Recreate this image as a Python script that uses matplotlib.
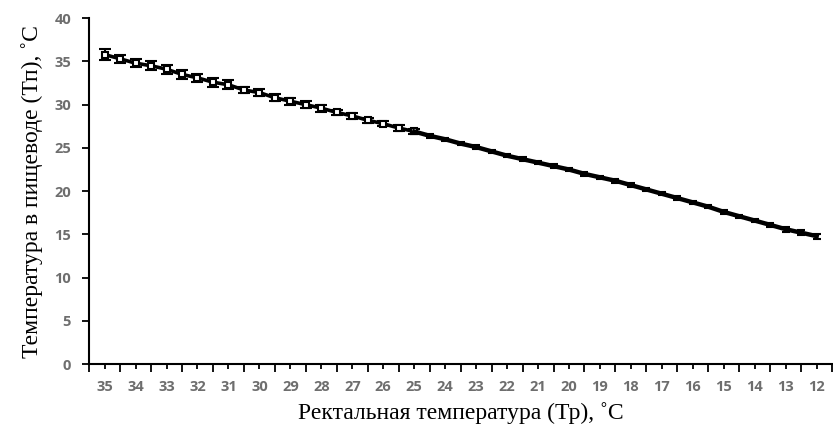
import numpy as np
import matplotlib.pyplot as plt

# rectal temperature categories (category axis, descending)
categories = [35, 34, 33, 32, 31, 30, 29, 28, 27, 26, 25, 24,
              23, 22, 21, 20, 19, 18, 17, 16, 15, 14, 13, 12]

# measurements every half degree: rectal temp and esophageal temp
tr_values = [35.0, 34.5, 34.0, 33.5, 33.0, 32.5, 32.0, 31.5, 31.0, 30.5,
             30.0, 29.5, 29.0, 28.5, 28.0, 27.5, 27.0, 26.5, 26.0, 25.5,
             25.0, 24.5, 24.0, 23.5, 23.0, 22.5, 22.0, 21.5, 21.0, 20.5,
             20.0, 19.5, 19.0, 18.5, 18.0, 17.5, 17.0, 16.5, 16.0, 15.5,
             15.0, 14.5, 14.0, 13.5, 13.0, 12.5, 12.0]
tp_values = [35.8, 35.3, 34.8, 34.5, 34.1, 33.5, 33.1, 32.6, 32.3, 31.7,
             31.4, 30.8, 30.4, 30.0, 29.6, 29.1, 28.7, 28.2, 27.8, 27.3,
             26.9, 26.4, 26.0, 25.5, 25.1, 24.6, 24.1, 23.7, 23.3, 22.9,
             22.5, 22.0, 21.6, 21.2, 20.7, 20.2, 19.7, 19.2, 18.7, 18.2,
             17.6, 17.1, 16.6, 16.1, 15.6, 15.2, 14.8]
tp_errors = [0.6, 0.5, 0.5, 0.5, 0.5, 0.5, 0.5, 0.5, 0.5, 0.4,
             0.4, 0.4, 0.4, 0.4, 0.4, 0.3, 0.3, 0.3, 0.3, 0.3,
             0.3, 0.2, 0.2, 0.2, 0.2, 0.2, 0.2, 0.2, 0.2, 0.2,
             0.2, 0.2, 0.2, 0.2, 0.2, 0.2, 0.2, 0.2, 0.2, 0.2,
             0.2, 0.2, 0.2, 0.2, 0.3, 0.3, 0.3]

tick_font = {'family': 'Open Sans', 'size': 10.5, 'weight': 'bold', 'color': '#6e6e6e'}
label_font = {'family': 'Liberation Serif', 'size': 17, 'color': 'black'}

fig = plt.figure(figsize=(8.33, 4.33), dpi=100)
ax = fig.add_axes([0.107, 0.159, 0.892, 0.799])

# category position of each measurement
xpos = [categories[0] - t for t in tr_values]
n_marked = 20
# upper part: hollow markers with error bars
ax.errorbar(xpos[:n_marked + 1], tp_values[:n_marked + 1], yerr=tp_errors[:n_marked + 1],
            color='black', lw=2.6, marker='s', ms=5, mfc='white', mec='black', mew=1.5,
            elinewidth=1.5, capsize=4, capthick=1.5)
# lower part: thick line with short error bars
ax.errorbar(xpos[n_marked:], tp_values[n_marked:], yerr=tp_errors[n_marked:],
            color='black', lw=3.2, elinewidth=1.5, capsize=3, capthick=1.5)

ax.set_xlim(-0.5, len(categories) - 0.5)
ax.set_ylim(0, 40)
ax.set_yticks(np.arange(0, 41, 5))
ax.set_yticklabels([str(v) for v in range(0, 41, 5)], fontdict=tick_font)

ax.set_xticks(np.arange(len(categories)))
ax.set_xticklabels([str(c) for c in categories], fontdict=tick_font)
ax.set_xticks(np.arange(len(categories) + 1) - 0.5, minor=True)
ax.tick_params(axis='x', which='major', length=3.5, width=1.3, pad=8)
ax.tick_params(axis='x', which='minor', length=6, width=1.3)
ax.tick_params(axis='y', length=5, width=1.3, pad=8)

for side in ['top', 'right']:
    ax.spines[side].set_visible(False)
for side in ['left', 'bottom']:
    ax.spines[side].set_linewidth(1.5)

ax.set_xlabel('Ректальная температура (Тр), ˚С', fontdict=label_font, labelpad=6)
ax.set_ylabel('Температура в пищеводе (Тп), ˚С', fontdict=label_font, labelpad=8)

fig.savefig('out.png', dpi=100)
